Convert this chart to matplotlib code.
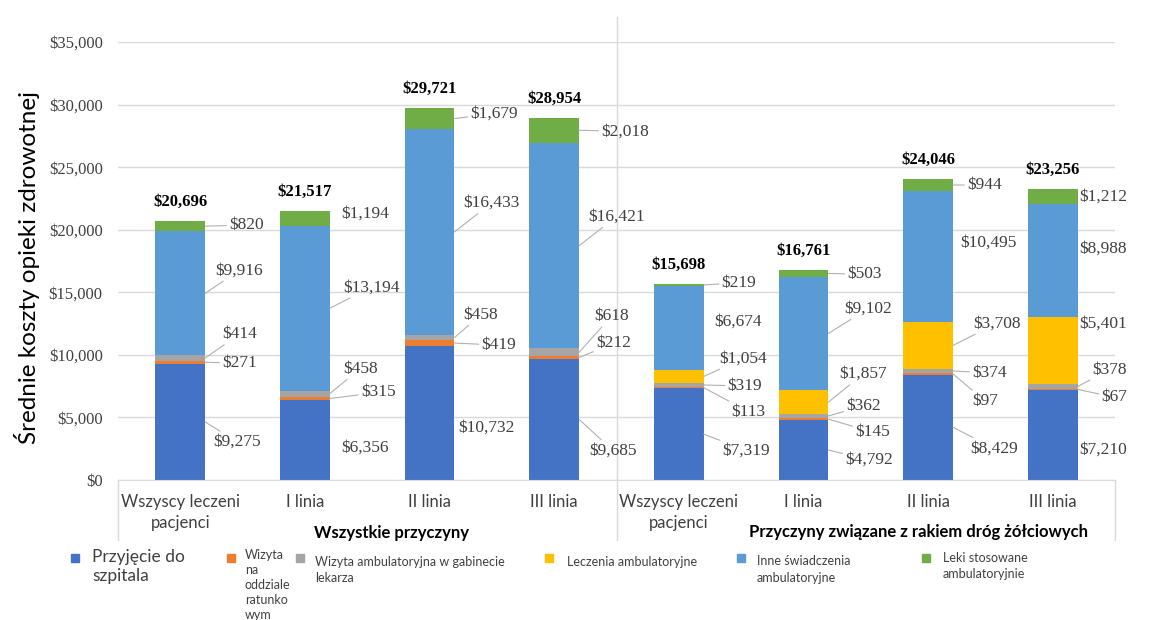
import matplotlib
matplotlib.use("Agg")
import matplotlib.pyplot as plt
from matplotlib.patches import Rectangle

# ---- data -------------------------------------------------------------
categories = ["Wszyscy leczeni\npacjenci", "I linia", "II linia", "III linia",
              "Wszyscy leczeni\npacjenci", "I linia", "II linia", "III linia"]
group_names = ["Wszystkie przyczyny",
               "Przyczyny związane z rakiem dróg żółciowych"]

series_names = ["Przyjęcie do\nszpitala",
                "Wizyta\nna\noddziale\nratunko\nwym",
                "Wizyta ambulatoryjna w gabinecie\nlekarza",
                "Leczenia ambulatoryjne",
                "Inne świadczenia\nambulatoryjne",
                "Leki stosowane\nambulatoryjnie"]

hospital   = [9275, 6356, 10732, 9685, 7319, 4792, 8429, 7210]
emergency  = [271, 315, 419, 212, 113, 145, 97, 67]
office     = [414, 458, 458, 618, 319, 362, 374, 378]
infusion   = [0, 0, 0, 0, 1054, 1857, 3708, 5401]
other_outp = [9916, 13194, 16433, 16421, 6674, 9102, 10495, 8988]
drugs      = [820, 1194, 1679, 2018, 219, 503, 944, 1212]
totals     = [20696, 21517, 29721, 28954, 15698, 16761, 24046, 23256]

series = [hospital, emergency, office, infusion, other_outp, drugs]
colors = ["#4472C4", "#ED7D31", "#A5A5A5", "#FFC000", "#5B9BD5", "#70AD47"]

# label offsets from the bar's right edge at segment middle (px): dx, dy(down), leader
label_layout = [
    [(8, 20, 1), (17, 1, 1), (17, -24, 1), None, (10, -23, 1), (24, -1, 1)],
    [(11, 7, 0), (31, -6, 1), (13, -25, 1), None, (13, -21, 1), (11, -5, 0)],
    [(4, 15, 0), (27, 2, 1), (9, -23, 1), None, (9, -29, 1), (16, -5, 1)],
    [(10, 31, 1), (17, -14, 1), (15, -36, 1), None, (9, -29, 1), (22, 1, 1)],
    [(19, 16, 1), (28, 24, 1), (24, 1, 1), (16, -18, 1), (11, -6, 0), (18, -2, 1)],
    [(17, 10, 1), (27, 13, 1), (18, -10, 1), (11, -28, 1), (16, -25, 1), (19, 1, 1)],
    [(17, 21, 1), (19, 27, 1), (19, 2, 1), (20, -22, 1), (7, -14, 0), (14, 0, 1)],
    [(2, 15, 0), (24, 8, 1), (15, -17, 1), (2, -27, 0), (2, -12, 0), (2, 0, 0)],
]

# ---- figure -------------------------------------------------------------
W, H = 1169, 620
fig = plt.figure(figsize=(W / 100, H / 100), dpi=100)
fig.patch.set_facecolor("white")
ax = fig.add_axes([118 / W, 140 / H, 997 / W, 438 / H])

SERIF = "Liberation Serif"
SANS = "Lato"
bar_w = 0.4
x = list(range(len(categories)))

bottoms = [0] * len(categories)
for vals, col in zip(series, colors):
    ax.bar(x, vals, width=bar_w, bottom=bottoms, color=col, linewidth=0, zorder=2)
    bottoms = [b + v for b, v in zip(bottoms, vals)]

# segment value labels
for i in x:
    base = 0
    for s, vals in enumerate(series):
        v = vals[i]
        mid = base + v / 2
        base += v
        lay = label_layout[i][s]
        if v == 0 or lay is None:
            continue
        dx, dy, leader = lay
        kw = {}
        if leader:
            kw["arrowprops"] = dict(arrowstyle="-", color="#b0b0b0", lw=0.8,
                                    shrinkA=0, shrinkB=0)
        ax.annotate(f"${v:,}", xy=(i + bar_w / 2, mid), xytext=(dx, -dy),
                    textcoords="offset pixels", ha="left", va="center",
                    fontsize=12.5, family=SERIF, color="#404040", zorder=3, **kw)
    ax.annotate(f"${totals[i]:,}", xy=(i, totals[i]), xytext=(0, 19),
                textcoords="offset pixels", ha="center", va="center",
                fontsize=12, fontweight="bold", family=SERIF, color="black")

# axes styling
ax.set_xlim(-0.5, len(categories) - 0.5)
ax.set_ylim(0, 35000)
yt = list(range(0, 35001, 5000))
ax.set_yticks(yt)
ax.set_yticklabels([f"${t:,}" for t in yt], family=SERIF, fontsize=12, color="#404040")
ax.tick_params(axis="y", length=0, pad=11)
ax.grid(axis="y", color="#d9d9d9", lw=1)
ax.set_axisbelow(True)
for sp in ["top", "right", "left"]:
    ax.spines[sp].set_visible(False)
ax.spines["bottom"].set_color("#d9d9d9")
ax.set_xticks(x)
ax.set_xticklabels(categories, family=SANS, fontsize=12, color="#404040",
                   linespacing=1.42)
ax.tick_params(axis="x", length=0, pad=10)

# group boundaries of the two-level category axis
ax.axvline(3.5, ymin=-0.137, ymax=1.057, color="#d9d9d9", lw=1, clip_on=False)
ax.axvline(-0.5, ymin=-0.137, ymax=0, color="#d9d9d9", lw=1, clip_on=False)
ax.axvline(7.5, ymin=-0.137, ymax=0, color="#d9d9d9", lw=1, clip_on=False)

fig.text(392 / W, 1 - 533 / H, group_names[0], ha="center", va="center",
         family=SANS, fontsize=12, fontweight="bold", color="black")
fig.text(918 / W, 1 - 532 / H, group_names[1], ha="center", va="center",
         family=SANS, fontsize=12, fontweight="bold", color="black")

fig.text(27 / W, 1 - 267 / H, "Średnie koszty opieki zdrowotnej", rotation=90,
         ha="center", va="center", family=SANS, fontsize=17.5, color="black")

# legend
legend_items = [
    # square x, square y, text x, text top y, font size, line spacing
    (75, 558, 92, 549, 12.5, 1.25),
    (231, 558, 245, 549, 9, 1.3),
    (300, 558, 315, 556, 9, 1.35),
    (549, 558, 567, 556, 9, 1.35),
    (741, 558, 757, 555, 9, 1.45),
    (926, 558, 943, 552, 9, 1.4),
]
for (sx, sy, tx, ty, fs, ls), name, col in zip(legend_items, series_names, colors):
    fig.patches.append(Rectangle(((sx - 4) / W, 1 - (sy + 4) / H), 8 / W, 8 / H,
                                 transform=fig.transFigure, color=col))
    fig.text(tx / W, 1 - ty / H, name, ha="left", va="top", family=SANS,
             fontsize=fs, color="#404040", linespacing=ls)

fig.savefig("out.png", dpi=100, facecolor="white")
